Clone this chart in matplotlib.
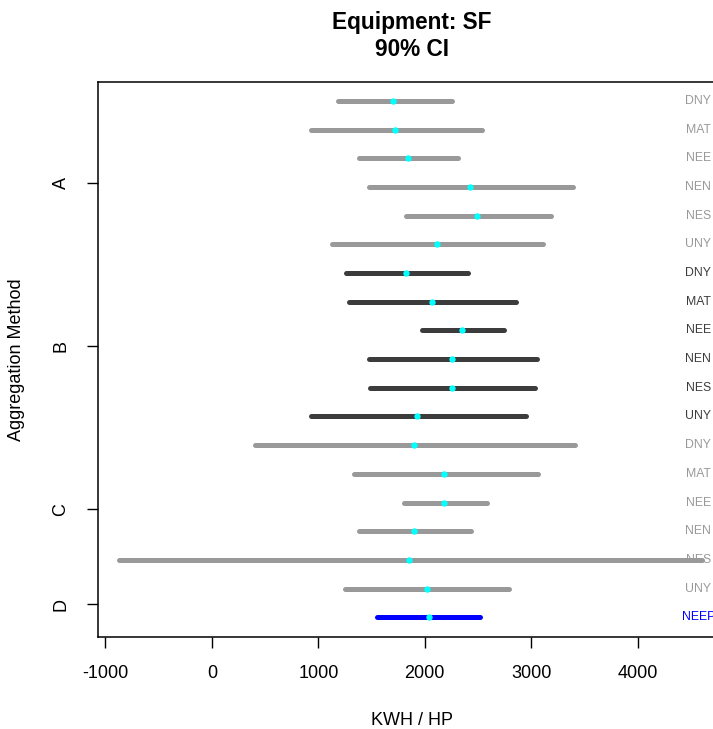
import numpy as np
import matplotlib.pyplot as plt

plt.rcParams['font.family'] = ['Liberation Sans', 'DejaVu Sans']

# estimates and 90% confidence limits, top row first
groups = ['A'] * 6 + ['B'] * 6 + ['C'] * 6 + ['D']
methods = ['DNY', 'MAT', 'NEE', 'NEN', 'NES', 'UNY'] * 3 + ['NEEP']
lower = [1188, 931, 1382, 1474, 1821, 1129,
         1260, 1291, 1972, 1474, 1489, 931,
         408, 1338, 1805, 1382, -877, 1251,
         1549]
estimate = [1705, 1721, 1840, 2426, 2489, 2113,
            1824, 2066, 2348, 2259, 2259, 1930,
            1899, 2184, 2184, 1899, 1855, 2019,
            2037]
upper = [2254, 2536, 2310, 3396, 3187, 3109,
         2404, 2858, 2748, 3053, 3037, 2949,
         3412, 3062, 2585, 2432, 4609, 2792,
         2520]

group_names = ['A', 'B', 'C', 'D']
group_tick_pos = [3.86, 9.56, 15.23, 18.54]
group_colors = {'A': '#999999', 'B': '#3c3c3c', 'C': '#999999', 'D': '#0000ff'}
x_ticks = [-1000, 0, 1000, 2000, 3000, 4000]

LABEL_X = 4570  # where the method names sit

fig = plt.figure(figsize=(7.13, 7.29), dpi=100)
ax = fig.add_axes([98 / 713, 1 - 637 / 729, 628 / 713, 555 / 729])

rows = np.arange(1, len(methods) + 1)
for r, g, m, lo, est, hi in zip(rows, groups, methods, lower, estimate, upper):
    c = group_colors[g]
    ax.plot([lo, hi], [r, r], color=c, lw=3.6, solid_capstyle='round', zorder=2)
    ax.plot(est, r, 'o', color='#00ffff', ms=4.6, mew=0, zorder=3)
    ax.text(LABEL_X, r, m, color=c, fontsize=8.8, ha='center', va='center')

ax.set_xlim(-1070, 4830)
ax.set_ylim(19.69, 0.337)
ax.set_xticks(x_ticks)
ax.set_xticklabels([str(t) for t in x_ticks])
ax.set_yticks(group_tick_pos)
ax.set_yticklabels(group_names, rotation=90, va='center')
ax.tick_params(axis='both', length=8, width=1, labelsize=13, pad=12.5, direction='out')

for s in ax.spines.values():
    s.set_linewidth(1.1)

ax.set_xlabel('KWH / HP', fontsize=13, labelpad=21)
ax.set_ylabel('Aggregation Method', fontsize=13, labelpad=20)
ax.set_title('Equipment: SF\n90% CI', fontsize=16.3, fontweight='bold', pad=19, linespacing=1.2)

fig.savefig('out.png', dpi=100)
